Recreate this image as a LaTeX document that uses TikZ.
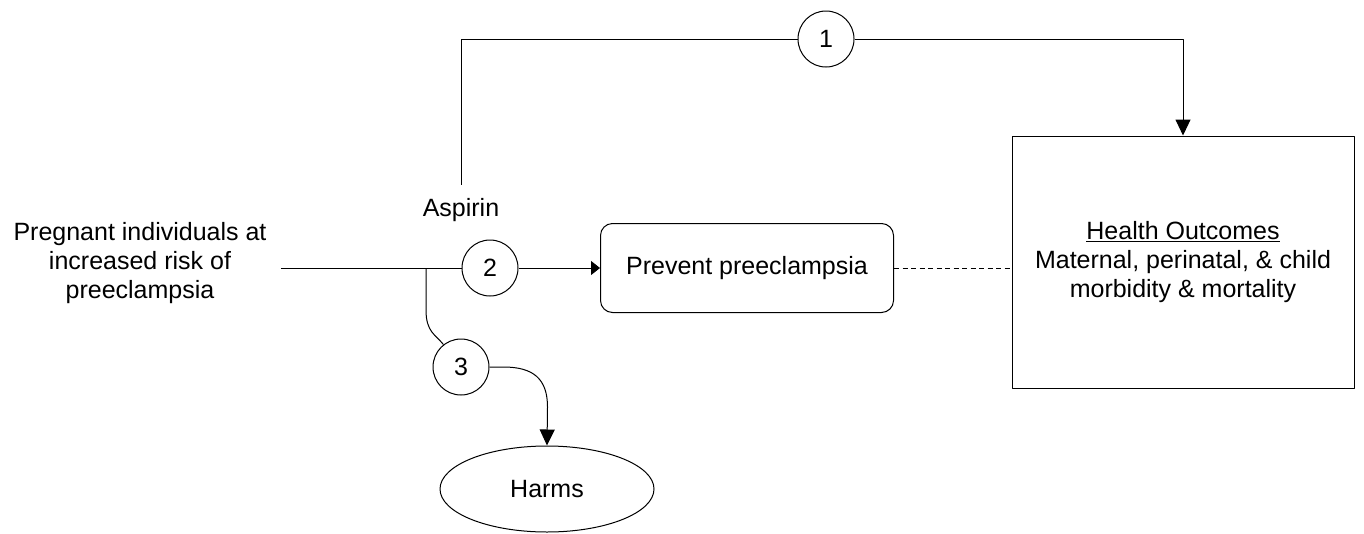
\documentclass[tikz,border=0pt]{standalone}
\usepackage{fontspec}
\setmainfont{Liberation Sans}
\usetikzlibrary{arrows.meta,shapes.geometric}
\begin{document}
\begin{tikzpicture}[x=1pt,y=-1pt,line join=bevel,
  every node/.style={font=\fontsize{25}{29}\selectfont},
  >={Triangle[length=16pt,width=15pt]},
  kqcircle/.style={draw,circle,minimum size=56pt,inner sep=0pt},
  stepbox/.style={draw,rounded corners=12pt,minimum width=293pt,minimum height=89pt},
  outbox/.style={draw,minimum width=342pt,minimum height=252pt,align=center},
  smallhead/.style={-{Triangle[length=9pt,width=14pt]}},
  ]
  \pgfsetlinewidth{1pt}
  \useasboundingbox (0,0) rectangle (1364,533);
  % Node: pop
  \node[align=center,inner xsep=14pt] (pop) at (140,263)
    {Pregnant individuals at\\increased risk of\\preeclampsia};
  % Node: aspirin
  \node (aspirin) at (461,210) {Aspirin};
  % Node: c1
  \node[kqcircle] (c1) at (826,39) {1};
  % Node: c2
  \node[kqcircle] (c2) at (490,268) {2};
  % Node: c3
  \node[kqcircle] (c3) at (461,367) {3};
  % Node: prev
  \node[stepbox] (prev) at (747,268) {Prevent preeclampsia};
  % Node: health
  \node[outbox] (health) at (1183,262)
    {\underline{Health Outcomes}\\Maternal, perinatal, \& child\\morbidity \& mortality};
  % Node: harms
  \node[draw,ellipse,minimum width=214pt,minimum height=86pt] (harms) at (547,489) {Harms};
  \coordinate (split) at (426,268);
  % Edge: pop -> c2
  \draw (pop.east |- c2) -- (c2);
  % Edge: c2 -> prev
  \draw[smallhead] (c2) -- (prev);
  % Edge: prev -> health
  \draw[dash pattern=on 5pt off 3.5pt] (prev) -- (prev -| health.west);
  % Edge: aspirin -> c1 -> health
  \draw ([yshift=10pt]aspirin.north) |- (c1);
  \draw[->] (c1) -| (health);
  % Edge: split -> c3
  \draw (split) -- ++(0,42) .. controls +(0,22) and +(-8,-10) .. (c3.128);
  % Edge: c3 -> harms
  \draw[->] (c3.east) -- ++(14,0) .. controls +(30,0) and +(0,-28) .. ++(44,40) -- (harms.north);
\end{tikzpicture}
\end{document}
